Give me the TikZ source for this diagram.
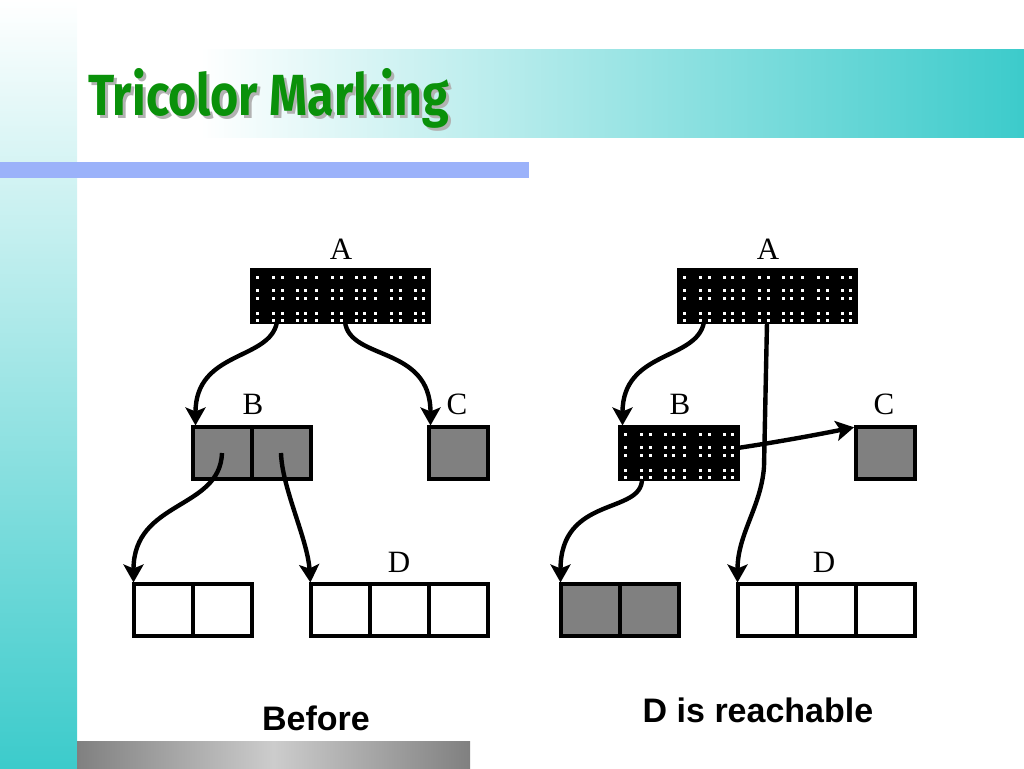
\documentclass[tikz,border=0pt]{standalone}
\usepackage{fontspec}
\usetikzlibrary{positioning,arrows.meta}
\newfontfamily\titlefont{Fira Sans}
\newfontfamily\capfont{Liberation Sans}
\newfontfamily\tagfont{Liberation Serif}
\definecolor{bandteal}{RGB}{60,203,203}
\definecolor{barblue}{RGB}{155,178,250}
\definecolor{bargray}{RGB}{128,128,128}
\definecolor{cellgray}{RGB}{128,128,128}
\definecolor{titlegreen}{RGB}{10,145,10}
\tikzset{
  cell/.style={draw, line width=4pt, minimum width=59pt, minimum height=52pt, inner sep=0pt, outer sep=0pt},
  whitecell/.style={cell, fill=white},
  graycell/.style={cell, fill=cellgray},
  blackcell/.style={cell, fill=black},
  ptr/.style={line width=4.4pt, shorten >=1.5pt, -{Stealth[length=18pt,width=20pt,inset=4pt]}},
  tag/.style={font=\tagfont\fontsize{31}{31}\selectfont, anchor=base, inner sep=0pt},
  caption/.style={font=\capfont\bfseries\fontsize{34}{34}\selectfont, inner sep=0pt},
  title/.style={font=\titlefont\bfseries\fontsize{58}{58}\selectfont, anchor=base west, inner sep=0pt}
}
\newcommand\dotcell[1]{%
  \foreach \dx in {4,20,29,44,52}
    \foreach \dy in {6,19,27,42,49}
      \fill[white] ([shift={(\dx,\dy)}]#1.north west) rectangle +(3,3);
}
\begin{document}
\begin{tikzpicture}[x=1pt, y=-1pt, node distance=0pt]
            \useasboundingbox (0,0) rectangle (1024,768);
            \shade[top color=white, bottom color=bandteal] (0,0) rectangle (77,768);
            \shade[left color=white, right color=bandteal] (200,50) rectangle (1024,137);
            \fill[barblue] (0,162) rectangle (529,178);
            \shade[left color=bargray, right color=bargray, middle color=bargray!40!white] (77,741) rectangle (470,768);

            \node[title, text=gray!60] (shadow) at (91,118) {\scalebox{0.835}[1]{Tricolor Marking}};
            \node[title, text=titlegreen] (title) at (88,115) {\scalebox{0.835}[1]{Tricolor Marking}};

            \node[blackcell] (a2) at (340,296) {};
            \node[blackcell, left=of a2] (a1) {};
            \node[blackcell, right=of a2] (a3) {};
            \node[graycell] (b1) at (222,453) {};
            \node[graycell, right=of b1] (b2) {};
            \node[graycell] (c) at (458,453) {};
            \node[whitecell] (e1) at (163,610) {};
            \node[whitecell, right=of e1] (e2) {};
            \node[whitecell] (d1) at (340,610) {};
            \node[whitecell, right=of d1] (d2) {};
            \node[whitecell, right=of d2] (d3) {};
            \dotcell{a1}
            \dotcell{a2}
            \dotcell{a3}

            \node[tag] (tA) at (341,259) {A};
            \node[tag] (tB) at (253,414) {B};
            \node[tag] (tC) at (457,414) {C};
            \node[tag] (tD) at (399,572) {D};

            \draw[ptr] ([xshift=-4pt]a1.south) .. controls +(-7,39) and +(0,-77) .. ([xshift=3pt]b1.north west);
            \draw[ptr] ([xshift=5pt]a2.south) .. controls +(5,39) and +(0,-82) .. ([xshift=2pt]c.north west);
            \draw[ptr] (b1.center) .. controls +(-2,57) and +(0,-84) .. (e1.north west);
            \draw[ptr] (b2.center) .. controls +(1,35) and +(-3,-45) .. (d1.north west);

            \begin{scope}[xshift=427pt]
            \node[blackcell] (ra2) at (340,296) {};
            \node[blackcell, left=of ra2] (ra1) {};
            \node[blackcell, right=of ra2] (ra3) {};
            \node[blackcell] (rb1) at (222,453) {};
            \node[blackcell, right=of rb1] (rb2) {};
            \node[graycell] (rc) at (458,453) {};
            \node[graycell] (re1) at (163,610) {};
            \node[graycell, right=of re1] (re2) {};
            \node[whitecell] (rd1) at (340,610) {};
            \node[whitecell, right=of rd1] (rd2) {};
            \node[whitecell, right=of rd2] (rd3) {};
            \dotcell{ra1}
            \dotcell{ra2}
            \dotcell{ra3}
            \dotcell{rb1}
            \dotcell{rb2}

            \node[tag] (rtA) at (341,259) {A};
            \node[tag] (rtB) at (253,414) {B};
            \node[tag] (rtC) at (457,414) {C};
            \node[tag] (rtD) at (397,572) {D};

            \draw[ptr] ([xshift=-4pt]ra1.south) .. controls +(-7,39) and +(0,-77) .. ([xshift=3pt]rb1.north west);
            \draw[ptr] (ra2.south) -- ++(-3,145) .. controls +(-3,40) and +(0,-50) .. (rd1.north west);
            \draw[ptr] ([yshift=5pt]rb2.east) .. controls +(40,-6) and +(-40,8) .. (rc.north west);
            \draw[ptr] ([xshift=-7pt]rb1.south) .. controls +(0,36) and +(0,-89) .. (re1.north west);
            \end{scope}

            \node[caption] (before) at (316,718) {Before};
            \node[caption] (reach) at (758,710) {D is reachable};
        \end{tikzpicture}
\end{document}
